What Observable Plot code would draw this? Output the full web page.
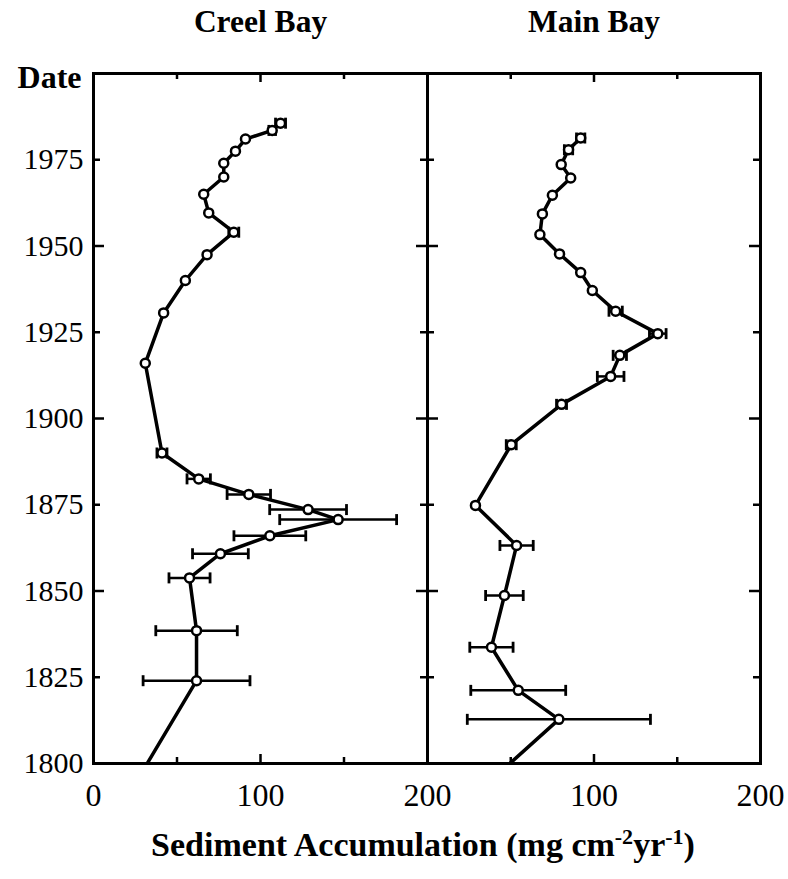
<!DOCTYPE html>
<html><head><meta charset="utf-8">
<script src="https://cdn.jsdelivr.net/npm/d3@7"></script>
<script src="https://cdn.jsdelivr.net/npm/@observablehq/plot@0.6"></script>
<style>
body{margin:0;background:#fff;}
#wrap{position:relative;width:788px;height:879px;overflow:hidden;}
#wrap svg{position:absolute;left:0;top:0;}
#xtitle{position:absolute;left:0;width:846px;top:825px;text-align:center;font-weight:bold;font-size:34px;line-height:40px;font-family:"Liberation Serif","Times New Roman",serif;color:#000;white-space:nowrap;}
#xtitle sup{font-size:22px;line-height:0;}
</style></head><body><div id="wrap"><div id="xtitle">Sediment Accumulation (mg cm<sup>-2</sup>yr<sup>-1</sup>)</div></div>
<script>
// ---- data ----
const panelTitles = ["Creel Bay", "Main Bay"];
const yAxisTitle = "Date";

const creelYears  = [1985.6,1983.5,1981,1977.5,1974,1970,1965,1959.6,1954,1947.5,1940,1930.6,1916,1890,1882.5,1878,1873.6,1870.7,1866,1860.8,1853.8,1838.5,1824];
const creelValues = [112,107,91,85,78,78,66,69,84,68,55,42,31,41,63,93,128.5,146.5,105.6,76,57.5,61.7,61.7];
const creelErrors = [3,2,0,0,0,0,0,0,3,0,0,0,0,3,7,13,23,35,21.5,16.7,12.3,24.4,32];
const creelTail   = {year: 1795, value: 26};   // line continues below the axis

const mainYears  = [1981.3,1977.9,1973.6,1969.7,1964.7,1959.3,1953.3,1947.7,1942.3,1937.1,1931.1,1924.6,1918.3,1912.2,1904.1,1892.4,1874.8,1863.2,1848.7,1833.7,1821.2,1812.8];
const mainValues = [92,84.7,80.3,86,75,69,67.5,79.3,92,99,113,138.3,115.5,110,80.5,50.3,28.8,53.5,46.2,38.4,54.5,78.9];
const mainErrors = [2.5,2.5,0,0,0,0,0,0,0,0,4,5,4,8,3,3,0,10,11.3,13,28.5,55];
const mainTail   = {year: 1795, value: 38};

const yTickLabels = [1800,1825,1850,1875,1900,1925,1950,1975];
const yMajorTicks = [1850,1900,1950];
const yMinorTicks = [1825,1875,1925,1975];
const xMajorTicks = [100];
const xMinorTicks = [50,150];
const xLabelsLeft  = [0,100,200];
const xLabelsRight = [100,200];

// ---- drawing ----
const cap = {draw(ctx, size){ const r = Math.sqrt(size/Math.PI); ctx.moveTo(0,-r); ctx.lineTo(0,r); }};
const TOP = 73, BOTTOM = 116, FULLW = 788, FULLH = 879;
const SERIF = "'Liberation Serif', 'Times New Roman', serif";

function panel({title, years, values, errs, tail, xLabels, showY, mL, mR}) {
  const W = FULLW - mL - mR, H = FULLH - TOP - BOTTOM;
  const pts = years.map((y,i)=>({year:y, value:values[i], err:errs[i]}));
  const path = pts.concat([tail]);
  const bars = pts.filter(d=>d.err>0);
  const tk = {stroke:"black", strokeWidth:2.5};
  const marks = [
    Plot.tickY(yMajorTicks, {...tk, insetRight: W-11}),
    Plot.tickY(yMinorTicks, {...tk, insetRight: W-7}),
    Plot.tickY(yMajorTicks, {...tk, insetLeft: W-11}),
    Plot.tickY(yMinorTicks, {...tk, insetLeft: W-7}),
    Plot.tickX(xMajorTicks, {...tk, insetBottom: H-9}),
    Plot.tickX(xMinorTicks, {...tk, insetBottom: H-6}),
    Plot.tickX(xMajorTicks, {...tk, insetTop: H-9}),
    Plot.tickX(xMinorTicks, {...tk, insetTop: H-6}),
    Plot.ruleY(bars, {y:"year", x1:d=>d.value-d.err, x2:d=>d.value+d.err, stroke:"black", strokeWidth:2.5}),
    Plot.dot(bars, {x:d=>d.value-d.err, y:"year", symbol:cap, r:5.5, fill:"none", stroke:"black", strokeWidth:2.8}),
    Plot.dot(bars, {x:d=>d.value+d.err, y:"year", symbol:cap, r:5.5, fill:"none", stroke:"black", strokeWidth:2.8}),
    Plot.line(path, {x:"value", y:"year", stroke:"black", strokeWidth:3.5, clip:true}),
    Plot.dot(pts, {x:"value", y:"year", r:4.5, fill:"white", stroke:"black", strokeWidth:2.5}),
    Plot.frame({stroke:"black", strokeWidth:3}),
    Plot.axisX({ticks:xLabels, tickSize:0, tickPadding:20, tickFormat:d=>String(d), label:null, fontSize:32, fontFamily:SERIF}),
    Plot.text([title], {frameAnchor:"top", dy:-42, lineAnchor:"bottom", fontWeight:"bold", fontSize:31.5, fontFamily:SERIF})
  ];
  if (showY) {
    marks.push(Plot.axisY({ticks:yTickLabels, tickSize:0, tickPadding:10, tickFormat:d=>String(d), label:null, fontSize:30, fontFamily:SERIF}));
    marks.push(Plot.text([yAxisTitle], {frameAnchor:"top-left", textAnchor:"end", lineAnchor:"middle", dx:-12, dy:4, fontWeight:"bold", fontSize:32, fontFamily:SERIF}));
  }
  return Plot.plot({
    width:FULLW, height:FULLH, marginLeft:mL, marginRight:mR, marginTop:TOP, marginBottom:BOTTOM,
    x:{domain:[0,200]}, y:{domain:[1800,2000], axis: showY ? undefined : null},
    style:{fontFamily:SERIF, fontSize:"30px", background:"transparent", color:"black", overflow:"visible"},
    marks
  });
}

const wrap = document.getElementById("wrap");
wrap.appendChild(panel({title:panelTitles[0], years:creelYears, values:creelValues, errs:creelErrors, tail:creelTail, xLabels:xLabelsLeft, showY:true, mL:93, mR:FULLW-427}));
wrap.appendChild(panel({title:panelTitles[1], years:mainYears, values:mainValues, errs:mainErrors, tail:mainTail, xLabels:xLabelsRight, showY:false, mL:427, mR:FULLW-760}));
</script>
</body></html>
